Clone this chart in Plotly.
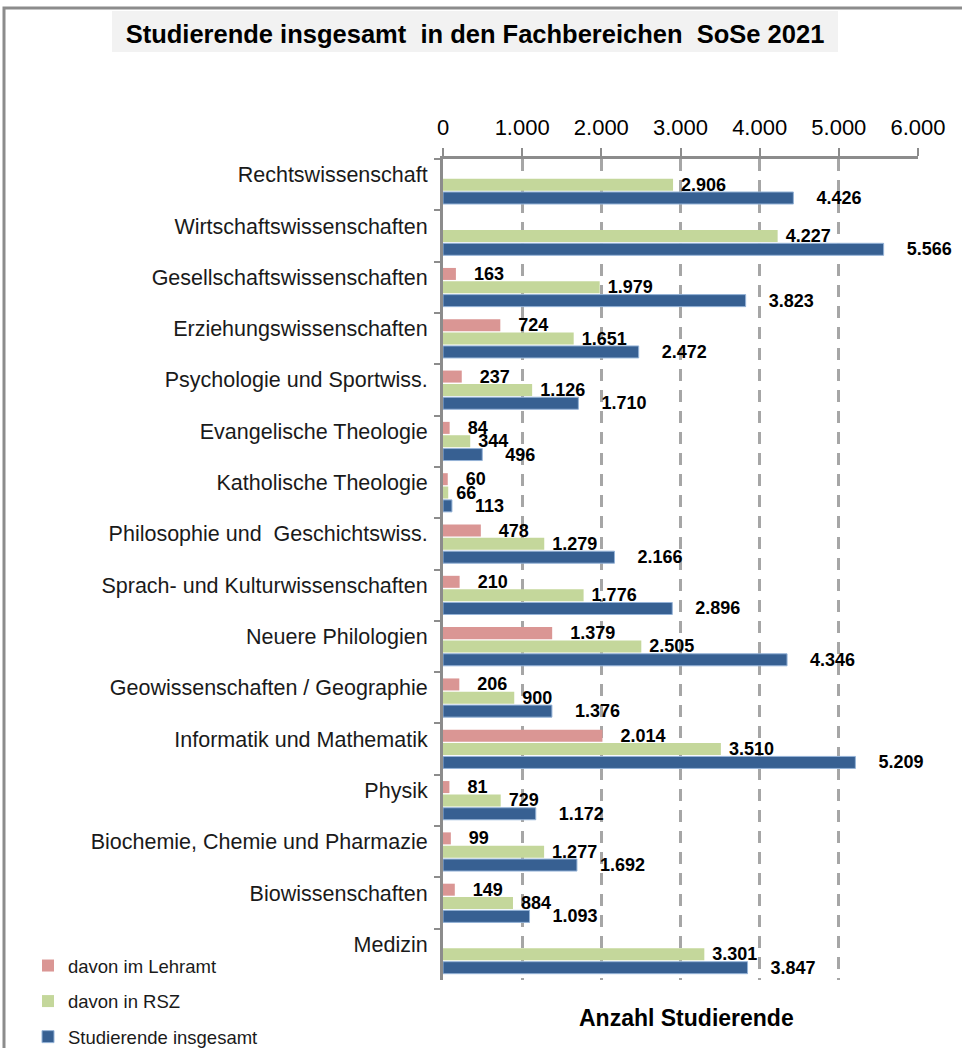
import plotly.graph_objects as go

# Fachbereiche, top to bottom
faecher = [
    "Rechtswissenschaft",
    "Wirtschaftswissenschaften",
    "Gesellschaftswissenschaften",
    "Erziehungswissenschaften",
    "Psychologie und Sportwiss.",
    "Evangelische Theologie",
    "Katholische Theologie",
    "Philosophie und  Geschichtswiss.",
    "Sprach- und Kulturwissenschaften",
    "Neuere Philologien",
    "Geowissenschaften / Geographie",
    "Informatik und Mathematik",
    "Physik",
    "Biochemie, Chemie und Pharmazie",
    "Biowissenschaften",
    "Medizin",
]

lehramt = [None, None, 163, 724, 237, 84, 60, 478, 210, 1379, 206, 2014, 81, 99, 149, None]
rsz = [2906, 4227, 1979, 1651, 1126, 344, 66, 1279, 1776, 2505, 900, 3510, 729, 1277, 884, 3301]
insgesamt = [4426, 5566, 3823, 2472, 1710, 496, 113, 2166, 2896, 4346, 1376, 5209, 1172, 1692, 1093, 3847]

x_ticks = [0, 1000, 2000, 3000, 4000, 5000, 6000]

FONT = "Arial, 'Liberation Sans', sans-serif"
GRAY = "#8c8c8c"
NBSP = "\u00a0"

# plot area in pixels (left, right, top, bottom)
L, R, T, B = 443, 918, 159, 980
W, H = 962, 1048


def px_x(p):
    return (p - L) / (R - L)


def px_y(p):
    return (B - p) / (B - T)


fig = go.Figure()

# name, values, colour, bar edge, label padding (nbsp count)
series = [
    ("davon im Lehramt", lehramt, "#da9694", None, 3),
    ("davon in RSZ", rsz, "#c4d79b", None, 1),
    ("Studierende insgesamt", insgesamt, "#376092", "#95b3d7", 4),
]

for name, vals, color, edge, pad in series:
    fig.add_trace(
        go.Bar(
            x=vals,
            y=faecher,
            orientation="h",
            name=name,
            legendgroup=name,
            marker=dict(
                color=color,
                line=dict(color=edge or color, width=1 if edge else 0),
            ),
            texttemplate=NBSP * pad + "%{x:,d}",
            textposition="outside",
            constraintext="none",
            textfont=dict(family=FONT, size=18, color="#000000", weight="bold"),
            cliponaxis=False,
        )
    )

fig.update_layout(
    width=W,
    height=H,
    barmode="group",
    bargap=0.22,
    bargroupgap=0.1,
    separators=",.",
    paper_bgcolor="white",
    plot_bgcolor="white",
    margin=dict(l=L, r=W - R, t=T, b=H - B, pad=0, autoexpand=False),
    font=dict(family=FONT, color="#1a1a1a"),
    title=dict(
        text="Studierende insgesamt&nbsp; in den Fachbereichen&nbsp; SoSe 2021",
        x=475 / W,
        y=1 - 34 / H,
        xanchor="center",
        yanchor="middle",
        font=dict(family=FONT, size=25.5, color="#000000", weight="bold"),
    ),
    legend=dict(
        x=px_x(28),
        y=px_y(947),
        xanchor="left",
        yanchor="top",
        traceorder="grouped",
        tracegroupgap=8.5,
        font=dict(family=FONT, size=18.5, color="#1a1a1a"),
        bgcolor="rgba(0,0,0,0)",
    ),
    shapes=[
        # outer frame
        dict(type="rect", xref="paper", yref="paper",
             x0=px_x(4), x1=px_x(1100), y0=px_y(1200), y1=px_y(8),
             line=dict(color=GRAY, width=3), layer="below"),
        # title background
        dict(type="rect", xref="paper", yref="paper",
             x0=px_x(112), x1=px_x(838), y0=px_y(52), y1=px_y(11),
             fillcolor="#f2f2f2", line=dict(width=0), layer="below"),
    ],
    annotations=[
        dict(text="<b>Anzahl Studierende</b>", xref="paper", yref="paper",
             x=px_x(686), y=px_y(1018), xanchor="center", yanchor="middle",
             showarrow=False, font=dict(family=FONT, size=23, color="#000000")),
    ],
)

fig.update_xaxes(
    side="top",
    range=[0, 6000],
    tickvals=x_ticks,
    tickformat=",d",
    ticks="outside",
    ticklen=8,
    tickwidth=2,
    tickcolor=GRAY,
    showline=True,
    linewidth=3,
    linecolor=GRAY,
    showgrid=True,
    gridcolor="#a6a6a6",
    gridwidth=3,
    griddash="12px,9px",
    zeroline=False,
    ticklabelstandoff=4,
    tickfont=dict(family=FONT, size=22, color="#000000"),
    fixedrange=True,
)

fig.update_yaxes(
    autorange="reversed",
    tickson="boundaries",
    ticks="outside",
    ticklen=6,
    tickwidth=2,
    tickcolor=GRAY,
    showline=True,
    linewidth=3,
    linecolor=GRAY,
    showgrid=False,
    ticklabelstandoff=8,
    ticklabelshift=10,
    tickfont=dict(family=FONT, size=21.5, color="#1a1a1a"),
    fixedrange=True,
)

# page body has a default 8px margin; drop it so the figure sits at the window corner
fig.write_html(
    "out.html",
    config={"displayModeBar": False},
    post_script="document.body.style.margin='0px';",
)
